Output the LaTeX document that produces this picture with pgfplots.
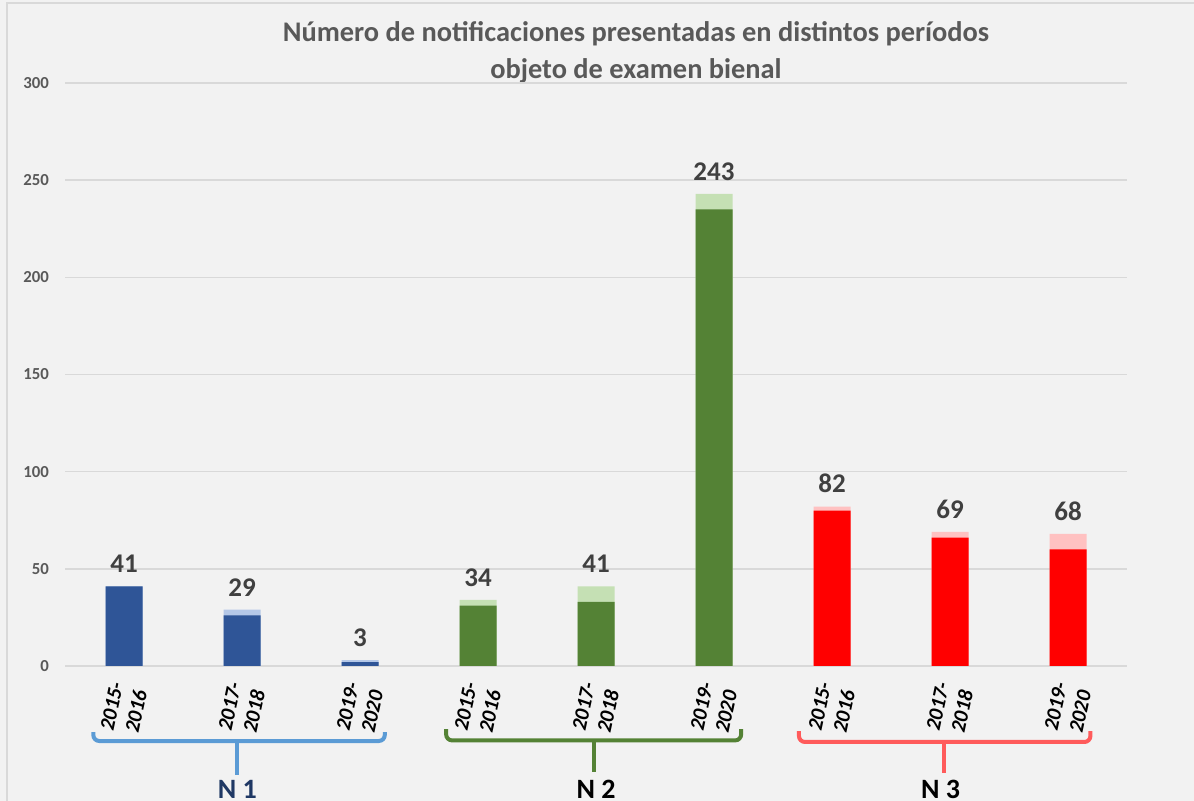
\documentclass[border=0pt]{standalone}
\usepackage{fontspec}
\setmainfont{Carlito}
\usepackage{pgfplots}
\pgfplotsset{compat=1.18}

\definecolor{bg}{HTML}{F2F2F2}
\definecolor{gridc}{HTML}{D9D9D9}
\definecolor{blued}{HTML}{2F5597}
\definecolor{bluel}{HTML}{B4C7E7}
\definecolor{greend}{HTML}{548235}
\definecolor{greenl}{HTML}{C5E0B4}
\definecolor{redd}{HTML}{FF0000}
\definecolor{redl}{HTML}{FFC1C1}
\definecolor{brblue}{HTML}{5B9BD5}
\definecolor{brred}{HTML}{FF5B5B}
\definecolor{titlec}{HTML}{595959}
\definecolor{valc}{HTML}{404040}
\definecolor{nblue}{HTML}{1F3864}

\begin{document}
\begin{tikzpicture}
\path[use as bounding box] (0,0) rectangle (597pt,400.5pt);
\fill[bg] (0,0) rectangle (597pt,400.5pt);
% chart border (left and top edges visible)
\draw[gridc, line width=1pt] (3.5pt,0) -- (3.5pt,399pt) -- (597pt,399pt);

\node[align=center, font=\bfseries\fontsize{14.2}{18.5}\selectfont, text=titlec]
  at (318pt,374.5pt) {Número de notificaciones presentadas en distintos períodos\\objeto de examen bienal};

\begin{axis}[
    at={(32.5pt,67.5pt)}, anchor=south west,
    scale only axis, width=531pt, height=291.5pt,
    xmin=-0.5, xmax=8.5, ymin=0, ymax=300,
    axis line style={draw=none},
    major tick length=0pt,
    ytick={0,50,...,300},
    ymajorgrids,
    grid style={gridc, line width=0.75pt},
    yticklabel style={font=\bfseries\fontsize{8.4}{10}\selectfont, text=titlec, xshift=-4.5pt},
    /pgf/number format/assume math mode=true,
    xtick={0,...,8},
    xticklabels={{2015-\\2016},{2017-\\2018},{2019-\\2020},{2015-\\2016},{2017-\\2018},{2019-\\2020},{2015-\\2016},{2017-\\2018},{2019-\\2020}},
    xticklabel style={font=\bfseries\itshape\fontsize{10.5}{12.5}\selectfont, align=center, anchor=center, yshift=-21.5pt, rotate=78},
    ybar, bar width=18.5pt, bar shift=0pt,
    clip=false,
    nodes near coords style={font=\bfseries\fontsize{13.5}{15}\selectfont, text=valc, anchor=south, yshift=3.2pt},
]
% N 1
\addplot[fill=bluel, draw=none, nodes near coords] coordinates {(0,41) (1,29) (2,3)};
\addplot[fill=blued, draw=none] coordinates {(0,41) (1,26) (2,2)};
% N 2
\addplot[fill=greenl, draw=none, nodes near coords] coordinates {(3,34) (4,41) (5,243)};
\addplot[fill=greend, draw=none] coordinates {(3,31) (4,33) (5,235)};
% N 3
\addplot[fill=redl, draw=none, nodes near coords] coordinates {(6,82) (7,69) (8,68)};
\addplot[fill=redd, draw=none] coordinates {(6,80) (7,66) (8,60)};

% group brackets
\draw[brblue, line width=2pt, rounded corners=3pt] (axis cs:-0.26,-34) -- (axis cs:-0.26,-38.6) -- (axis cs:2.21,-38.6) -- (axis cs:2.21,-34);
\draw[brblue, line width=2pt] (axis cs:0.96,-38.6) -- (axis cs:0.96,-56);
\draw[greend, line width=2pt, rounded corners=3pt] (axis cs:2.73,-32.5) -- (axis cs:2.73,-38.3) -- (axis cs:5.23,-38.3) -- (axis cs:5.23,-32.5);
\draw[greend, line width=2pt] (axis cs:3.98,-38.3) -- (axis cs:3.98,-54.6);
\draw[brred, line width=2pt, rounded corners=3pt] (axis cs:5.72,-33.5) -- (axis cs:5.72,-39.1) -- (axis cs:8.19,-39.1) -- (axis cs:8.19,-33.5);
\draw[brred, line width=2pt] (axis cs:6.95,-39.1) -- (axis cs:6.95,-55);

\node[anchor=north, inner sep=0pt, font=\bfseries\fontsize{14}{16}\selectfont, text=nblue] at (axis cs:0.96,-58.5) {N 1};
\node[anchor=north, inner sep=0pt, font=\bfseries\fontsize{14}{16}\selectfont, text=black] at (axis cs:4.0,-58.5) {N 2};
\node[anchor=north, inner sep=0pt, font=\bfseries\fontsize{14}{16}\selectfont, text=black] at (axis cs:6.92,-58.5) {N 3};
\end{axis}
\end{tikzpicture}
\end{document}
